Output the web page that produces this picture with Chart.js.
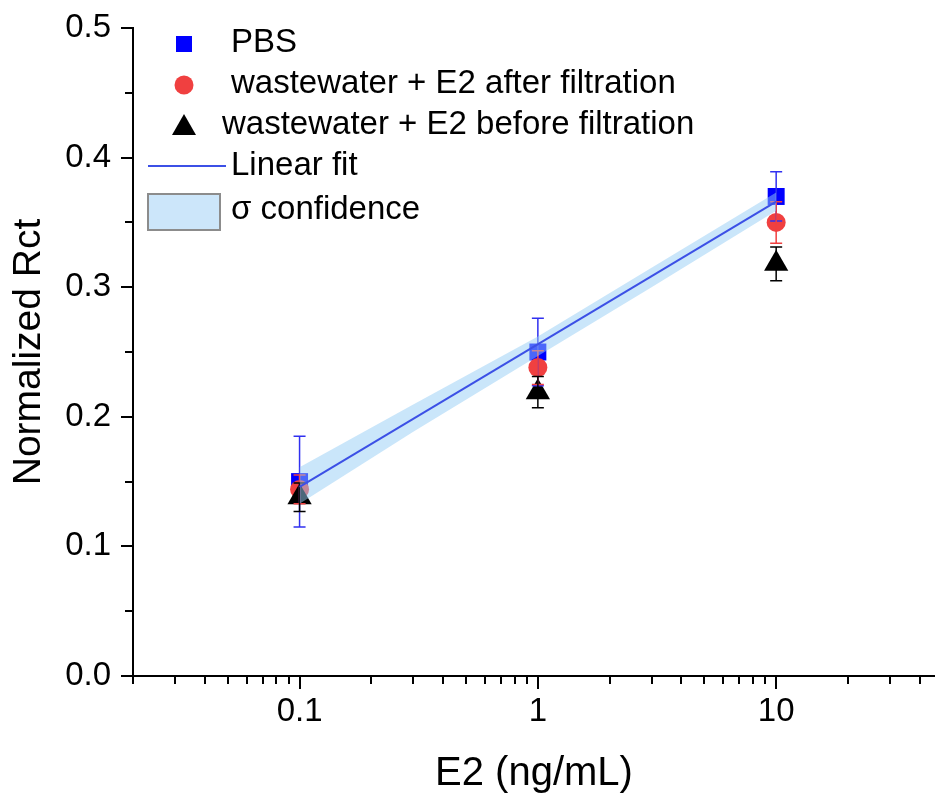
<!DOCTYPE html>
<html>
<head>
<meta charset="utf-8">
<title>Normalized Rct vs E2</title>
<script src="https://cdn.jsdelivr.net/npm/chart.js@4.4.1/dist/chart.umd.min.js"></script>
<style>
    html, body { margin: 0; padding: 0; background: #fff; }
    #wrap { width: 935px; height: 801px; }
</style>
</head>
<body>
<div id="wrap"><canvas id="rctChart" width="935" height="801"></canvas></div>
<script>
// concentrations (ng/mL)
const concentrations = [0.1, 1, 10];

const pbsValues = [0.150, 0.250, 0.370];
const pbsErrors = [0.035, 0.026, 0.019];

const afterValues = [0.144, 0.238, 0.350];
const afterErrors = [0.011, 0.013, 0.016];

const beforeValues = [0.138, 0.219, 0.318];
const beforeErrors = [0.011, 0.012, 0.013];

// linear fit and its confidence band
const fitX = [0.1, 10];
const fitY = [0.146, 0.366];
const bandX = [0.1, 0.3, 1, 3, 10];
const bandUpper = [0.161, 0.2095, 0.262, 0.315, 0.373];
const bandLower = [0.133, 0.1885, 0.247, 0.300, 0.359];

// axis ticks
const xMajorTicks = [0.1, 1, 10];
const xMinorTicks = [0.02, 0.03, 0.04, 0.05, 0.06, 0.07, 0.08, 0.09,
    0.2, 0.3, 0.4, 0.5, 0.6, 0.7, 0.8, 0.9,
    2, 3, 4, 5, 6, 7, 8, 9, 20, 30, 40];
const yTicks = [0, 0.05, 0.1, 0.15, 0.2, 0.25, 0.3, 0.35, 0.4, 0.45, 0.5];

const FONT = 'Arial, "Liberation Sans", sans-serif';

const toPoints = (xs, ys) => xs.map((x, i) => ({ x: x, y: ys[i] }));

const pointSets = [
    { label: "PBS", values: pbsValues, errors: pbsErrors, color: "#0000ff", errColor: "#3030f0", style: "rect", radius: 12 },
    { label: "wastewater + E2 after filtration", values: afterValues, errors: afterErrors, color: "#f04040", errColor: "#f04040", style: "circle", radius: 9.5 },
    { label: "wastewater + E2 before filtration", values: beforeValues, errors: beforeErrors, color: "#000000", errColor: "#000000", style: "triangle", radius: 14 }
];

// error bars, drawn once all markers are on the canvas
const errorBars = {
    id: "errorBars",
    afterDatasetDraw(chart, args) {
        if (args.index !== 2) return;
        const ctx = chart.ctx;
        const xs = chart.scales.x, ys = chart.scales.y;
        ctx.save();
        pointSets.forEach(set => {
            ctx.strokeStyle = set.errColor;
            ctx.lineWidth = 1.5;
            concentrations.forEach((c, i) => {
                const px = xs.getPixelForValue(c);
                const top = ys.getPixelForValue(set.values[i] + set.errors[i]);
                const bot = ys.getPixelForValue(set.values[i] - set.errors[i]);
                ctx.beginPath();
                ctx.moveTo(px, top); ctx.lineTo(px, bot);
                ctx.moveTo(px - 6, top); ctx.lineTo(px + 6, top);
                ctx.moveTo(px - 6, bot); ctx.lineTo(px + 6, bot);
                ctx.stroke();
            });
        });
        ctx.restore();
    }
};

// outward tick marks, long on majors, short on minors
const tickMarks = {
    id: "tickMarks",
    afterDraw(chart) {
        const ctx = chart.ctx;
        const xs = chart.scales.x, ys = chart.scales.y;
        const area = chart.chartArea;
        ctx.save();
        ctx.strokeStyle = "#000";
        ctx.lineWidth = 2;
        ctx.beginPath();
        xMajorTicks.forEach(v => {
            const px = Math.round(xs.getPixelForValue(v));
            ctx.moveTo(px, area.bottom); ctx.lineTo(px, area.bottom + 13);
        });
        xMinorTicks.forEach(v => {
            const px = Math.round(xs.getPixelForValue(v));
            ctx.moveTo(px, area.bottom); ctx.lineTo(px, area.bottom + 8);
        });
        yTicks.forEach((v, i) => {
            const py = Math.round(ys.getPixelForValue(v));
            const len = i % 2 === 0 ? 12 : 8;
            ctx.moveTo(area.left, py); ctx.lineTo(area.left - len, py);
        });
        ctx.stroke();
        ctx.restore();
    }
};

// legend inside the plot, top left
const insideLegend = {
    id: "insideLegend",
    afterDraw(chart) {
        const ctx = chart.ctx;
        ctx.save();
        ctx.font = "33px " + FONT;
        ctx.fillStyle = "#000";
        ctx.textBaseline = "middle";
        ctx.textAlign = "left";

        // PBS square
        ctx.fillStyle = "#0000ff";
        ctx.fillRect(176, 36, 16, 16);
        ctx.fillStyle = "#000";
        ctx.fillText(pointSets[0].label, 231, 43);

        // red circle
        ctx.fillStyle = "#f04040";
        ctx.beginPath();
        ctx.arc(184, 85, 9.5, 0, Math.PI * 2);
        ctx.fill();
        ctx.fillStyle = "#000";
        ctx.fillText(pointSets[1].label, 231, 84);

        // black triangle
        ctx.beginPath();
        ctx.moveTo(184, 114);
        ctx.lineTo(196, 135);
        ctx.lineTo(172, 135);
        ctx.closePath();
        ctx.fill();
        ctx.fillText(pointSets[2].label, 222, 125);

        // fit line
        ctx.strokeStyle = "rgb(60, 80, 230)";
        ctx.lineWidth = 2;
        ctx.beginPath();
        ctx.moveTo(148, 166); ctx.lineTo(226, 166);
        ctx.stroke();
        ctx.fillText("Linear fit", 231, 166);

        // confidence box
        ctx.fillStyle = "rgb(204, 230, 250)";
        ctx.fillRect(148, 194, 72, 36);
        ctx.strokeStyle = "#8c8c8c";
        ctx.lineWidth = 2;
        ctx.strokeRect(148, 194, 72, 36);
        ctx.fillStyle = "#000";
        ctx.fillText("\u03c3 confidence", 231, 210);
        ctx.restore();
    }
};

const datasets = pointSets.map((set, i) => ({
    type: "scatter",
    label: set.label,
    data: toPoints(concentrations, set.values),
    pointStyle: set.style,
    pointRadius: set.radius,
    pointHoverRadius: set.radius,
    backgroundColor: set.color,
    borderColor: set.color,
    borderWidth: 0,
    order: 5 - i
}));

datasets.push({
    type: "line",
    label: "band upper",
    data: toPoints(bandX, bandUpper),
    borderWidth: 0,
    pointRadius: 0,
    backgroundColor: "rgba(150, 205, 245, 0.5)",
    fill: "+1",
    order: 1
});
datasets.push({
    type: "line",
    label: "band lower",
    data: toPoints(bandX, bandLower),
    borderWidth: 0,
    pointRadius: 0,
    fill: false,
    order: 1
});
datasets.push({
    type: "line",
    label: "Linear fit",
    data: toPoints(fitX, fitY),
    borderColor: "rgb(60, 80, 230)",
    borderWidth: 2,
    pointRadius: 0,
    fill: false,
    order: 0
});

new Chart(document.getElementById("rctChart"), {
    type: "scatter",
    data: { datasets: datasets },
    options: {
        responsive: false,
        animation: false,
        layout: { autoPadding: false, padding: { top: 28, right: 0, left: 0, bottom: 0 } },
        plugins: {
            legend: { display: false },
            tooltip: { enabled: false }
        },
        scales: {
            x: {
                type: "logarithmic",
                min: 0.02,
                max: 46.4,
                afterFit: scale => {
                    scale.height = 125;
                    scale.paddingLeft = 0;
                    scale.paddingRight = 0;
                },
                afterBuildTicks: scale => {
                    scale.ticks = xMajorTicks.map(v => ({ value: v }));
                },
                ticks: {
                    autoSkip: false,
                    maxRotation: 0,
                    padding: 16,
                    color: "#000",
                    font: { family: FONT, size: 33 },
                    callback: v => String(v)
                },
                grid: { display: false, drawTicks: false },
                border: { display: true, color: "#000", width: 2 },
                title: {
                    display: true,
                    text: "E2 (ng/mL)",
                    color: "#000",
                    font: { family: FONT, size: 40 },
                    padding: { top: 0, bottom: 3 }
                }
            },
            y: {
                min: 0,
                max: 0.5,
                afterFit: scale => {
                    scale.width = 133;
                    scale.paddingTop = 0;
                    scale.paddingBottom = 0;
                },
                afterBuildTicks: scale => {
                    scale.ticks = yTicks.filter((v, i) => i % 2 === 0).map(v => ({ value: v }));
                },
                ticks: {
                    padding: 22,
                    color: "#000",
                    font: { family: FONT, size: 33 },
                    callback: v => v.toFixed(1)
                },
                grid: { display: false, drawTicks: false },
                border: { display: true, color: "#000", width: 2 },
                title: {
                    display: true,
                    text: "Normalized Rct",
                    color: "#000",
                    font: { family: FONT, size: 39 },
                    padding: { top: 6, bottom: 0 }
                }
            }
        }
    },
    plugins: [errorBars, tickMarks, insideLegend]
});
</script>
</body>
</html>
